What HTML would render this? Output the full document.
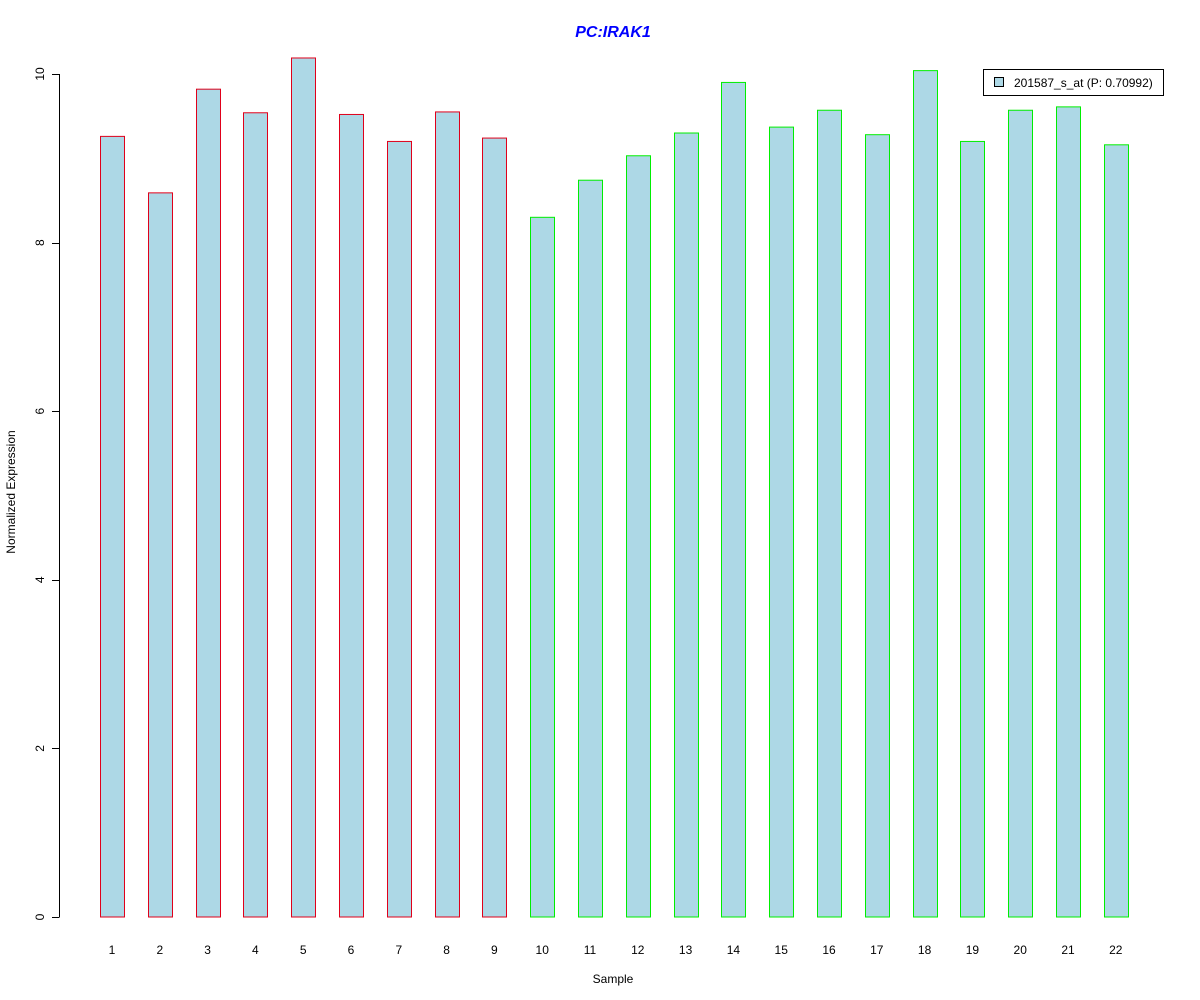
<!DOCTYPE html>
<html><head><meta charset="utf-8"><style>body{margin:0;background:#fff}svg{display:block;font-family:"Liberation Sans",sans-serif}</style></head>
<body>
<svg id="chart" width="1200" height="1000">
<text x="613" y="37" text-anchor="middle" font-size="16" font-weight="bold" font-style="italic" fill="#0000ff">PC:IRAK1</text>
<text x="613" y="983" text-anchor="middle" font-size="12">Sample</text>
<text transform="translate(15,492) rotate(-90)" text-anchor="middle" font-size="12">Normalized Expression</text>
<g id="axis"></g>
<g id="bars"></g>
<g id="xlabels"></g>
<g>
<rect x="983.5" y="69.5" width="180" height="26" fill="#fff" stroke="#000"/>
<rect x="994.5" y="77.5" width="9" height="9" fill="#add8e6" stroke="#000"/>
<text x="1014" y="87" font-size="12">201587_s_at (P: 0.70992)</text>
</g>
</svg>
<script>
const categories = ["1","2","3","4","5","6","7","8","9","10","11","12","13","14","15","16","17","18","19","20","21","22"];
const values = [9.26,8.59,9.82,9.54,10.19,9.52,9.20,9.55,9.24,8.30,8.74,9.03,9.30,9.90,9.37,9.57,9.28,10.04,9.20,9.57,9.61,9.16];
const groups = ["r","r","r","r","r","r","r","r","r","g","g","g","g","g","g","g","g","g","g","g","g","g"];
const yTicks = [0,2,4,6,8,10];
const NS="http://www.w3.org/2000/svg";
const y0=917, yPer=(917-74)/10;
function yScale(v){return y0-v*yPer;}
function xCenter(i){return 112+i*47.8;}
const bw=24;
const axis=document.getElementById('axis');
function mk(tag,attrs,parent){const e=document.createElementNS(NS,tag);for(const k in attrs)e.setAttribute(k,attrs[k]);parent.appendChild(e);return e;}
const al=mk('line',{x1:59.5,x2:59.5,y1:yScale(0),y2:yScale(10),stroke:'#000'},axis);


yTicks.forEach(t=>{
  const l=mk('line',{x1:52,x2:59.5,y1:Math.round(yScale(t))+0.5,y2:Math.round(yScale(t))+0.5,stroke:'#000'},axis);
  
  
  const yy=yScale(t);
  const tx=mk('text',{transform:`translate(44,${yy}) rotate(-90)`,'text-anchor':'middle','font-size':12},axis);
  tx.textContent=t;
  
  
});
const bars=document.getElementById('bars'), xl=document.getElementById('xlabels');
values.forEach((v,i)=>{
  const x=Math.round(xCenter(i)-bw/2)+0.5;
  const r=mk('rect',{x:x,y:yScale(v),width:bw,height:yScale(0)-yScale(v),fill:'#add8e6',stroke:groups[i]==='r'?'#e0001a':'#00ee00'},bars);
  
  
  const t=mk('text',{x:xCenter(i),y:954,'text-anchor':'middle','font-size':12},xl);
  t.textContent=categories[i];
  
  
});
</script>
</body></html>
